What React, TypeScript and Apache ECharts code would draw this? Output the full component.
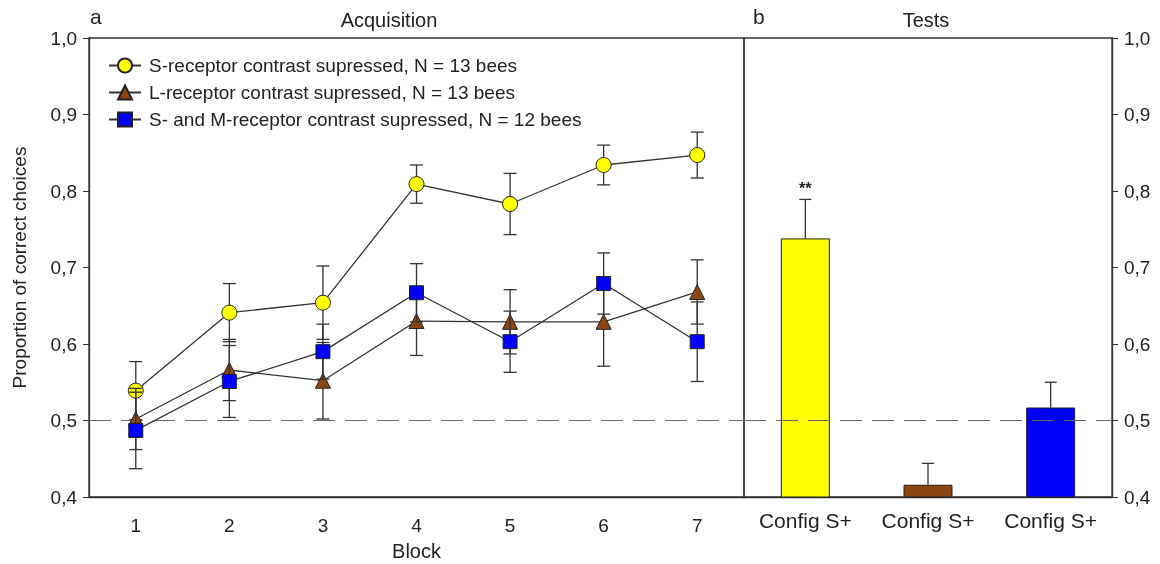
import React, { useEffect, useRef } from "react";
import * as echarts from "echarts";

const blocks = ["1", "2", "3", "4", "5", "6", "7"];
const sName = "S-receptor contrast supressed, N = 13 bees";
const lName = "L-receptor contrast supressed, N = 13 bees";
const smName = "S- and M-receptor contrast supressed, N = 12 bees";
const sMean = [0.539, 0.641, 0.654, 0.809, 0.783, 0.834, 0.847];
const sErr = [0.038, 0.038, 0.048, 0.025, 0.04, 0.026, 0.03];
const lMean = [0.502, 0.566, 0.552, 0.63, 0.629, 0.629, 0.668];
const lErr = [0.04, 0.04, 0.05, 0.045, 0.042, 0.058, 0.042];
const smMean = [0.487, 0.551, 0.59, 0.667, 0.603, 0.679, 0.603];
const smErr = [0.05, 0.047, 0.036, 0.038, 0.04, 0.04, 0.052];

const testCats = ["Config S+", "Config S+", "Config S+"];
const testMean = [0.738, 0.416, 0.517];
const testErr = [0.051, 0.028, 0.033];
const testSig = ["**", "", ""];
const testColors = ["#FFFF00", "#8B4513", "#0000FF"];

const yTicks = [0.4, 1.0, 0.1]; // min, max, interval
const chance = 0.5;

const FONT = "Liberation Sans, Arial, sans-serif";
const AX = "#333";
const LW = 1.3;

function errData(mean: number[], err: number[]) {
  return mean.map((m, i) => [i, m - err[i], m + err[i]]);
}

function errRender(capW: number, lower: boolean) {
  return (params: any, api: any) => {
    const x = api.value(0);
    const lo = api.value(1);
    const hi = api.value(2);
    const p1 = api.coord([x, lo]);
    const p2 = api.coord([x, hi]);
    const h = capW / 2;
    const st = { stroke: AX, lineWidth: LW };
    const children: any[] = [
      { type: "line", shape: { x1: p1[0], y1: p1[1], x2: p2[0], y2: p2[1] }, style: st },
      { type: "line", shape: { x1: p2[0] - h, y1: p2[1], x2: p2[0] + h, y2: p2[1] }, style: st },
    ];
    if (lower) {
      children.push({ type: "line", shape: { x1: p1[0] - h, y1: p1[1], x2: p1[0] + h, y2: p1[1] }, style: st });
    }
    const sig = testSig[params.dataIndex];
    if (!lower && sig) {
      children.push({
        type: "text",
        x: p2[0],
        y: p2[1] - 11,
        style: { text: sig, fill: "#222", font: `bold 16px ${FONT}`, align: "center", verticalAlign: "middle" },
      });
    }
    return { type: "group", children };
  };
}

const fmt = (v: number) => v.toFixed(1).replace(".", ",");

export default function App() {
  const ref = useRef<HTMLDivElement>(null);
  useEffect(() => {
    if (!ref.current) return;
    const chart = echarts.init(ref.current, undefined, { renderer: "svg" });
    const lineSeries = (name: string, data: number[], symbol: string, size: number, color: string, z: number, extra: any = {}) => ({
      type: "line",
      name,
      data,
      xAxisIndex: 0,
      yAxisIndex: 0,
      symbol,
      symbolSize: size,
      z,
      lineStyle: { color: AX, width: LW },
      itemStyle: { color, borderColor: "#222", borderWidth: 1 },
      ...extra,
    });
    const errSeries = (name: string, mean: number[], err: number[], z: number) => ({
      type: "custom",
      name,
      xAxisIndex: 0,
      yAxisIndex: 0,
      z,
      silent: true,
      renderItem: errRender(13, true),
      encode: { x: 0, y: [1, 2] },
      data: errData(mean, err),
    });
    const dash = {
      silent: true,
      symbol: "none",
      label: { show: false },
      lineStyle: { type: [22, 10], color: "#666", width: 1.2 },
      data: [{ yAxis: chance }],
    };
    const yBase = {
      type: "value",
      min: yTicks[0],
      max: yTicks[1],
      interval: yTicks[2],
      splitLine: { show: false },
      axisLine: { show: true, lineStyle: { color: AX, width: 1.3 } },
      axisTick: { show: true, length: 6, lineStyle: { color: AX } },
      axisLabel: { formatter: fmt, color: "#222", fontSize: 19, fontFamily: FONT, margin: 12 },
    };
    chart.setOption({
      animation: false,
      textStyle: { fontFamily: FONT },
      grid: [
        { left: 89, right: 416, top: 38, bottom: 67, show: true, borderColor: AX, borderWidth: 1.3, containLabel: false, outerBoundsMode: "none" },
        { left: 744, right: 48, top: 38, bottom: 67, show: true, borderColor: AX, borderWidth: 1.3, containLabel: false, outerBoundsMode: "none" },
      ],
      legend: {
        data: [sName, lName, smName],
        orient: "vertical",
        left: 103,
        top: 51,
        itemWidth: 32,
        itemHeight: 17.5,
        itemGap: 8,
        textStyle: { fontSize: 19, color: "#222", fontFamily: FONT, padding: [0, 0, 0, 3] },
      },
      xAxis: [
        {
          type: "category",
          gridIndex: 0,
          data: blocks,
          name: "Block",
          nameLocation: "middle",
          nameGap: 44,
          nameTextStyle: { fontSize: 20, color: "#222", fontFamily: FONT },
          axisLine: { lineStyle: { color: AX, width: 1.3 } },
          axisTick: { alignWithLabel: true, length: 7, lineStyle: { color: AX } },
          axisLabel: { color: "#222", fontSize: 19, fontFamily: FONT, margin: 19 },
        },
        {
          type: "category",
          gridIndex: 1,
          data: testCats,
          axisLine: { lineStyle: { color: AX, width: 1.3 } },
          axisTick: { show: false },
          axisLabel: { color: "#222", fontSize: 21, fontFamily: FONT, margin: 13, interval: 0 },
        },
      ],
      yAxis: [
        {
          ...yBase,
          gridIndex: 0,
          position: "left",
          name: "Proportion of correct choices",
          nameLocation: "middle",
          nameGap: 60,
          nameTextStyle: { fontSize: 19, color: "#222", fontFamily: FONT },
        },
        { ...yBase, gridIndex: 1, position: "right" },
      ],
      series: [
        errSeries("sErr", sMean, sErr, 2),
        lineSeries(sName, sMean, "circle", 15, "#FFFF00", 3, { markLine: dash }),
        errSeries("lErr", lMean, lErr, 4),
        lineSeries(lName, lMean, "triangle", 15, "#8B4513", 5),
        errSeries("smErr", smMean, smErr, 6),
        lineSeries(smName, smMean, "rect", 14, "#0000FF", 7),
        {
          type: "bar",
          name: "tests",
          xAxisIndex: 1,
          yAxisIndex: 1,
          barWidth: 49,
          data: testMean.map((v, i) => ({ value: v, itemStyle: { color: testColors[i] } })),
          itemStyle: { borderColor: "#222", borderWidth: 1 },
          markLine: dash,
          z: 2,
        },
        {
          type: "custom",
          name: "testErr",
          xAxisIndex: 1,
          yAxisIndex: 1,
          z: 3,
          silent: true,
          renderItem: errRender(12, false),
          encode: { x: 0, y: [1, 2] },
          data: testMean.map((m, i) => [i, m, m + testErr[i]]),
        },
      ],
      graphic: [
        { type: "text", left: 90, top: 6, style: { text: "a", font: `21px ${FONT}`, fill: "#222" } },
        { type: "text", x: 389, y: 20, style: { text: "Acquisition", font: `20px ${FONT}`, fill: "#222", align: "center", verticalAlign: "middle" } },
        { type: "text", left: 753, top: 6, style: { text: "b", font: `21px ${FONT}`, fill: "#222" } },
        { type: "text", x: 926, y: 20, style: { text: "Tests", font: `20px ${FONT}`, fill: "#222", align: "center", verticalAlign: "middle" } },
      ],
    });
    return () => chart.dispose();
  }, []);
  return <div ref={ref} style={{ position: "fixed", left: 0, top: 0, width: 1160, height: 564 }} />;
}
